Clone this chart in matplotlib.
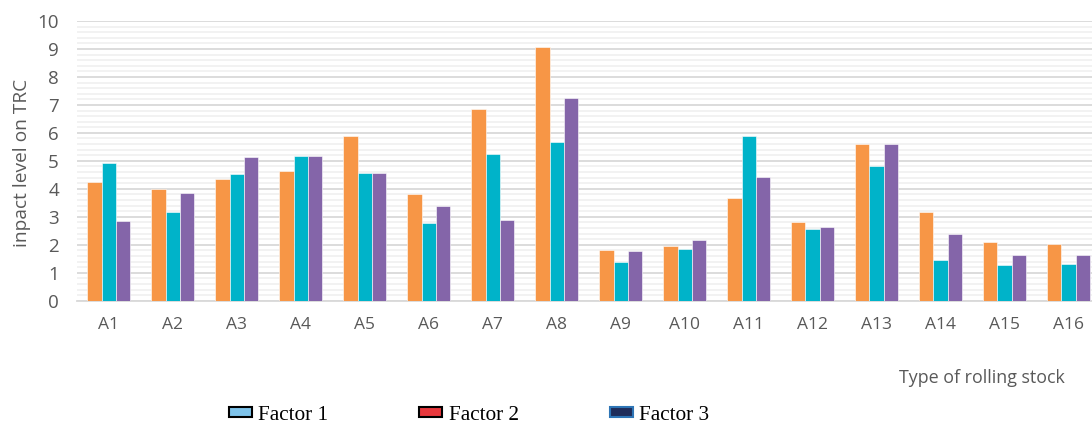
import numpy as np
import matplotlib
matplotlib.use("Agg")
from matplotlib import pyplot as plt
from matplotlib.patches import Patch
from matplotlib.ticker import MultipleLocator

categories = ["A1", "A2", "A3", "A4", "A5", "A6", "A7", "A8",
              "A9", "A10", "A11", "A12", "A13", "A14", "A15", "A16"]
factor1 = [4.24, 3.99, 4.35, 4.64, 5.88, 3.81, 6.85, 9.07,
           1.82, 1.97, 3.68, 2.81, 5.59, 3.17, 2.11, 2.04]
factor2 = [4.92, 3.17, 4.53, 5.18, 4.57, 2.77, 5.23, 5.66,
           1.38, 1.86, 5.89, 2.55, 4.80, 1.44, 1.27, 1.31]
factor3 = [2.85, 3.85, 5.14, 5.18, 4.57, 3.40, 2.90, 7.25,
           1.78, 2.17, 4.41, 2.63, 5.59, 2.40, 1.62, 1.65]
legend_labels = ["Factor 1", "Factor 2", "Factor 3"]

bar_colors = ["#F79646", "#00B3C9", "#8465A9"]
legend_colors = ["#7EC3EA", "#E8383D", "#1F2D5A"]
legend_edges = ["black", "black", "#2E75B6"]
txt = "#595959"
font = ["Open Sans", "DejaVu Sans"]

fig = plt.figure(figsize=(10.92, 4.28), dpi=100)
ax = fig.add_axes([77/1092, 1 - 300.7/428, 1 - 77/1092, (300.7 - 21)/428])

x = np.arange(len(categories))
w = 0.224
for i, vals in enumerate([factor1, factor2, factor3]):
    ax.bar(x + (i - 1)*w, vals, w, color=bar_colors[i],
           edgecolor="white", linewidth=0.4, zorder=3)

ax.set_ylim(0, 10)
ax.set_xlim(-0.5, 15 + (1092 - 1068.5)/64)
ax.yaxis.set_major_locator(MultipleLocator(1))
ax.yaxis.set_minor_locator(MultipleLocator(0.2))
ax.grid(axis="y", which="major", color="#D9D9D9", linewidth=1.3, zorder=1)
ax.grid(axis="y", which="minor", color="#F2F2F2", linewidth=1.4, zorder=0)
for s in ["top", "right", "left"]:
    ax.spines[s].set_visible(False)
ax.spines["bottom"].set_color("#D9D9D9")
ax.spines["bottom"].set_linewidth(1.3)
ax.tick_params(which="both", length=0)
ax.tick_params(axis="y", pad=13)
ax.tick_params(axis="x", pad=12)
ax.set_xticks(x)
ax.set_xticklabels(categories)
for lab in ax.get_xticklabels():
    lab.set_fontfamily(font)
    lab.set_fontsize(12.5)
    lab.set_color(txt)
for lab in ax.get_yticklabels():
    lab.set_fontfamily(font)
    lab.set_fontsize(13.5)
    lab.set_color(txt)

fig.text(22/1092, 1 - 163/428, "inpact level on TRC", rotation=90,
         ha="center", va="center", fontsize=13.8, color=txt, family=font)
fig.text(1065/1092, 1 - 378/428, "Type of rolling stock", ha="right",
         va="center", fontsize=12.9, color=txt, family=font)

handles = [Patch(facecolor=legend_colors[i], edgecolor=legend_edges[i],
                 linewidth=1.5, label=legend_labels[i]) for i in range(3)]
fig.legend(handles=handles, loc="center", bbox_to_anchor=(469/1092, 1 - 415/428),
           ncol=3, frameon=False, handlelength=1.1, handleheight=0.4,
           handletextpad=0.3, columnspacing=4.27,
           prop={"family": "Liberation Serif", "size": 15.3})

fig.savefig("out.png", dpi=100)
